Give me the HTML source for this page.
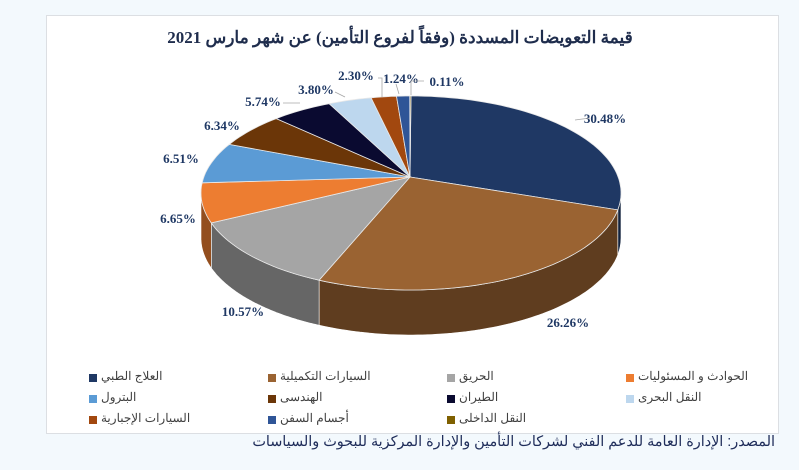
<!DOCTYPE html>
<html><head><meta charset="utf-8">
<style>
html,body{margin:0;padding:0;}
body{width:799px;height:470px;background:#f3f9fd;position:relative;overflow:hidden;font-family:"Liberation Sans","Noto Sans CJK SC",sans-serif;}
#box{position:absolute;left:46px;top:15px;width:731px;height:417px;background:#fff;border:1px solid #dcdfe3;}
.lg{position:absolute;font-size:12px;color:#404040;direction:rtl;white-space:nowrap;}
.sq{position:absolute;width:8px;height:8px;}
#src{position:absolute;right:24px;top:434px;font-size:14.4px;color:#1f2d5a;direction:rtl;white-space:nowrap;}
</style></head><body>
<div id="box"></div>
<svg id="s" width="799" height="470" style="position:absolute;left:0;top:0">
<text x="400" y="43" text-anchor="middle" font-family="Liberation Serif,'Noto Serif CJK SC',serif" font-weight="bold" font-size="17" fill="#1f2d4d" direction="rtl">قيمة التعويضات المسددة (وفقاً لفروع التأمين) عن شهر مارس 2021</text>
<g id="pie"></g>
</svg>
<div id="src">المصدر: الإدارة العامة للدعم الفني لشركات التأمين والإدارة المركزية للبحوث والسياسات</div>
<script>
var data=[[30.48,'#1f3864'],[26.26,'#9a6332'],[10.57,'#a5a5a5'],[6.65,'#ed7d31'],[6.51,'#5b9bd5'],[6.34,'#6b3608'],[5.74,'#0a0a30'],[3.80,'#bdd7ee'],[2.30,'#a2480f'],[1.24,'#2f5597'],[0.11,'#7f6000']];
var cx=411,cy=193,rx=210,ry=97,vx=410,vy=177,D=45;
var K=[[0,0],[109.7,100],[204.3,206],[242.3,252],[266.2,276],[289.6,300],[312.4,320],[333.1,337],[346.8,349],[355.1,356],[360,360]];
function W(t){for(var i=1;i<K.length;i++){if(t<=K[i][0]){var a=K[i-1],b=K[i];return a[1]+(b[1]-a[1])*(t-a[0])/(b[0]-a[0]);}}return t;}
var ns='http://www.w3.org/2000/svg',g=document.getElementById('pie');
function P(a){a=W(a)*Math.PI/180;return [cx+rx*Math.sin(a),cy-ry*Math.cos(a)];}
function shade(c,f){var n=parseInt(c.slice(1),16);var r=(n>>16)*f,gg=((n>>8)&255)*f,b=(n&255)*f;return 'rgb('+[r,gg,b].map(Math.round).join(',')+')';}
function add(tag,at){var e=document.createElementNS(ns,tag);for(var k in at)e.setAttribute(k,at[k]);g.appendChild(e);return e;}
var a=0,seg=[];
data.forEach(function(d){seg.push([a,a+d[0]*3.6,d[1]]);a+=d[0]*3.6;});
// sides: visible where warped angle in [90,270]
seg.forEach(function(s){
 var pts=[],i,p,arr=[];
 for(i=0;i<=80;i++){var t=s[0]+(s[1]-s[0])*i/80,w=W(t);if(w>=90&&w<=270)arr.push(t);}
 if(arr.length<2)return;
 arr.forEach(function(t){p=P(t);pts.push(p[0].toFixed(1)+','+p[1].toFixed(1));});
 for(i=arr.length-1;i>=0;i--){p=P(arr[i]);pts.push(p[0].toFixed(1)+','+(p[1]+D).toFixed(1));}
 add('polygon',{points:pts.join(' '),fill:shade(s[2],0.62),stroke:'#fff','stroke-width':0.6});
});
// top
seg.forEach(function(s){
 var pts=[vx+','+vy],n=Math.max(2,Math.ceil((s[1]-s[0])/2));
 for(var i=0;i<=n;i++){var p=P(s[0]+(s[1]-s[0])*i/n);pts.push(p[0].toFixed(1)+','+p[1].toFixed(1));}
 add('polygon',{points:pts.join(' '),fill:s[2],stroke:'#e8e8e8','stroke-width':0.8});
});
var labels=[['30.48%',605,123],['26.26%',568,327],['10.57%',243,316],['6.65%',178,223],['6.51%',181,163],['6.34%',222,130],['5.74%',263,106],['3.80%',316,94],['2.30%',356,80],['1.24%',401,83],['0.11%',447,86]];
labels.forEach(function(l){var t=add('text',{x:l[1],y:l[2],'text-anchor':'middle','font-family':'Liberation Serif,serif','font-weight':'bold','font-size':13,fill:'#1f3864'});t.textContent=l[0];});
[[378,78,382,78,382,97],[396,84,399,94],[424,81,411,81,411,95],[335,92,345,97],[283,103,300,103],[575,120,590,118]].forEach(function(l){var pts=[];for(var i=0;i<l.length;i+=2)pts.push(l[i]+','+l[i+1]);add('polyline',{points:pts.join(' '),fill:'none',stroke:'#a6a6a6','stroke-width':0.8});});
var leg=[['العلاج الطبي','#1f3864'],['السيارات التكميلية','#9a6332'],['الحريق','#a5a5a5'],['الحوادث و المسئوليات','#ed7d31'],['البترول','#5b9bd5'],['الهندسى','#6b3608'],['الطيران','#0a0a30'],['النقل البحرى','#bdd7ee'],['السيارات الإجبارية','#a2480f'],['أجسام السفن','#2f5597'],['النقل الداخلى','#7f6000']];
var xs=[89,268,447,626],ys=[378,399,420];
leg.forEach(function(l,i){var c=i%4,r=Math.floor(i/4);
 var q=document.createElement('div');q.className='sq';q.style.left=xs[c]+'px';q.style.top=(ys[r]-4)+'px';q.style.background=l[1];document.body.appendChild(q);
 var t=document.createElement('div');t.className='lg';t.style.left=(xs[c]+12)+'px';t.style.top=(ys[r]-9)+'px';t.textContent=l[0];document.body.appendChild(t);});
</script>
</body></html>
